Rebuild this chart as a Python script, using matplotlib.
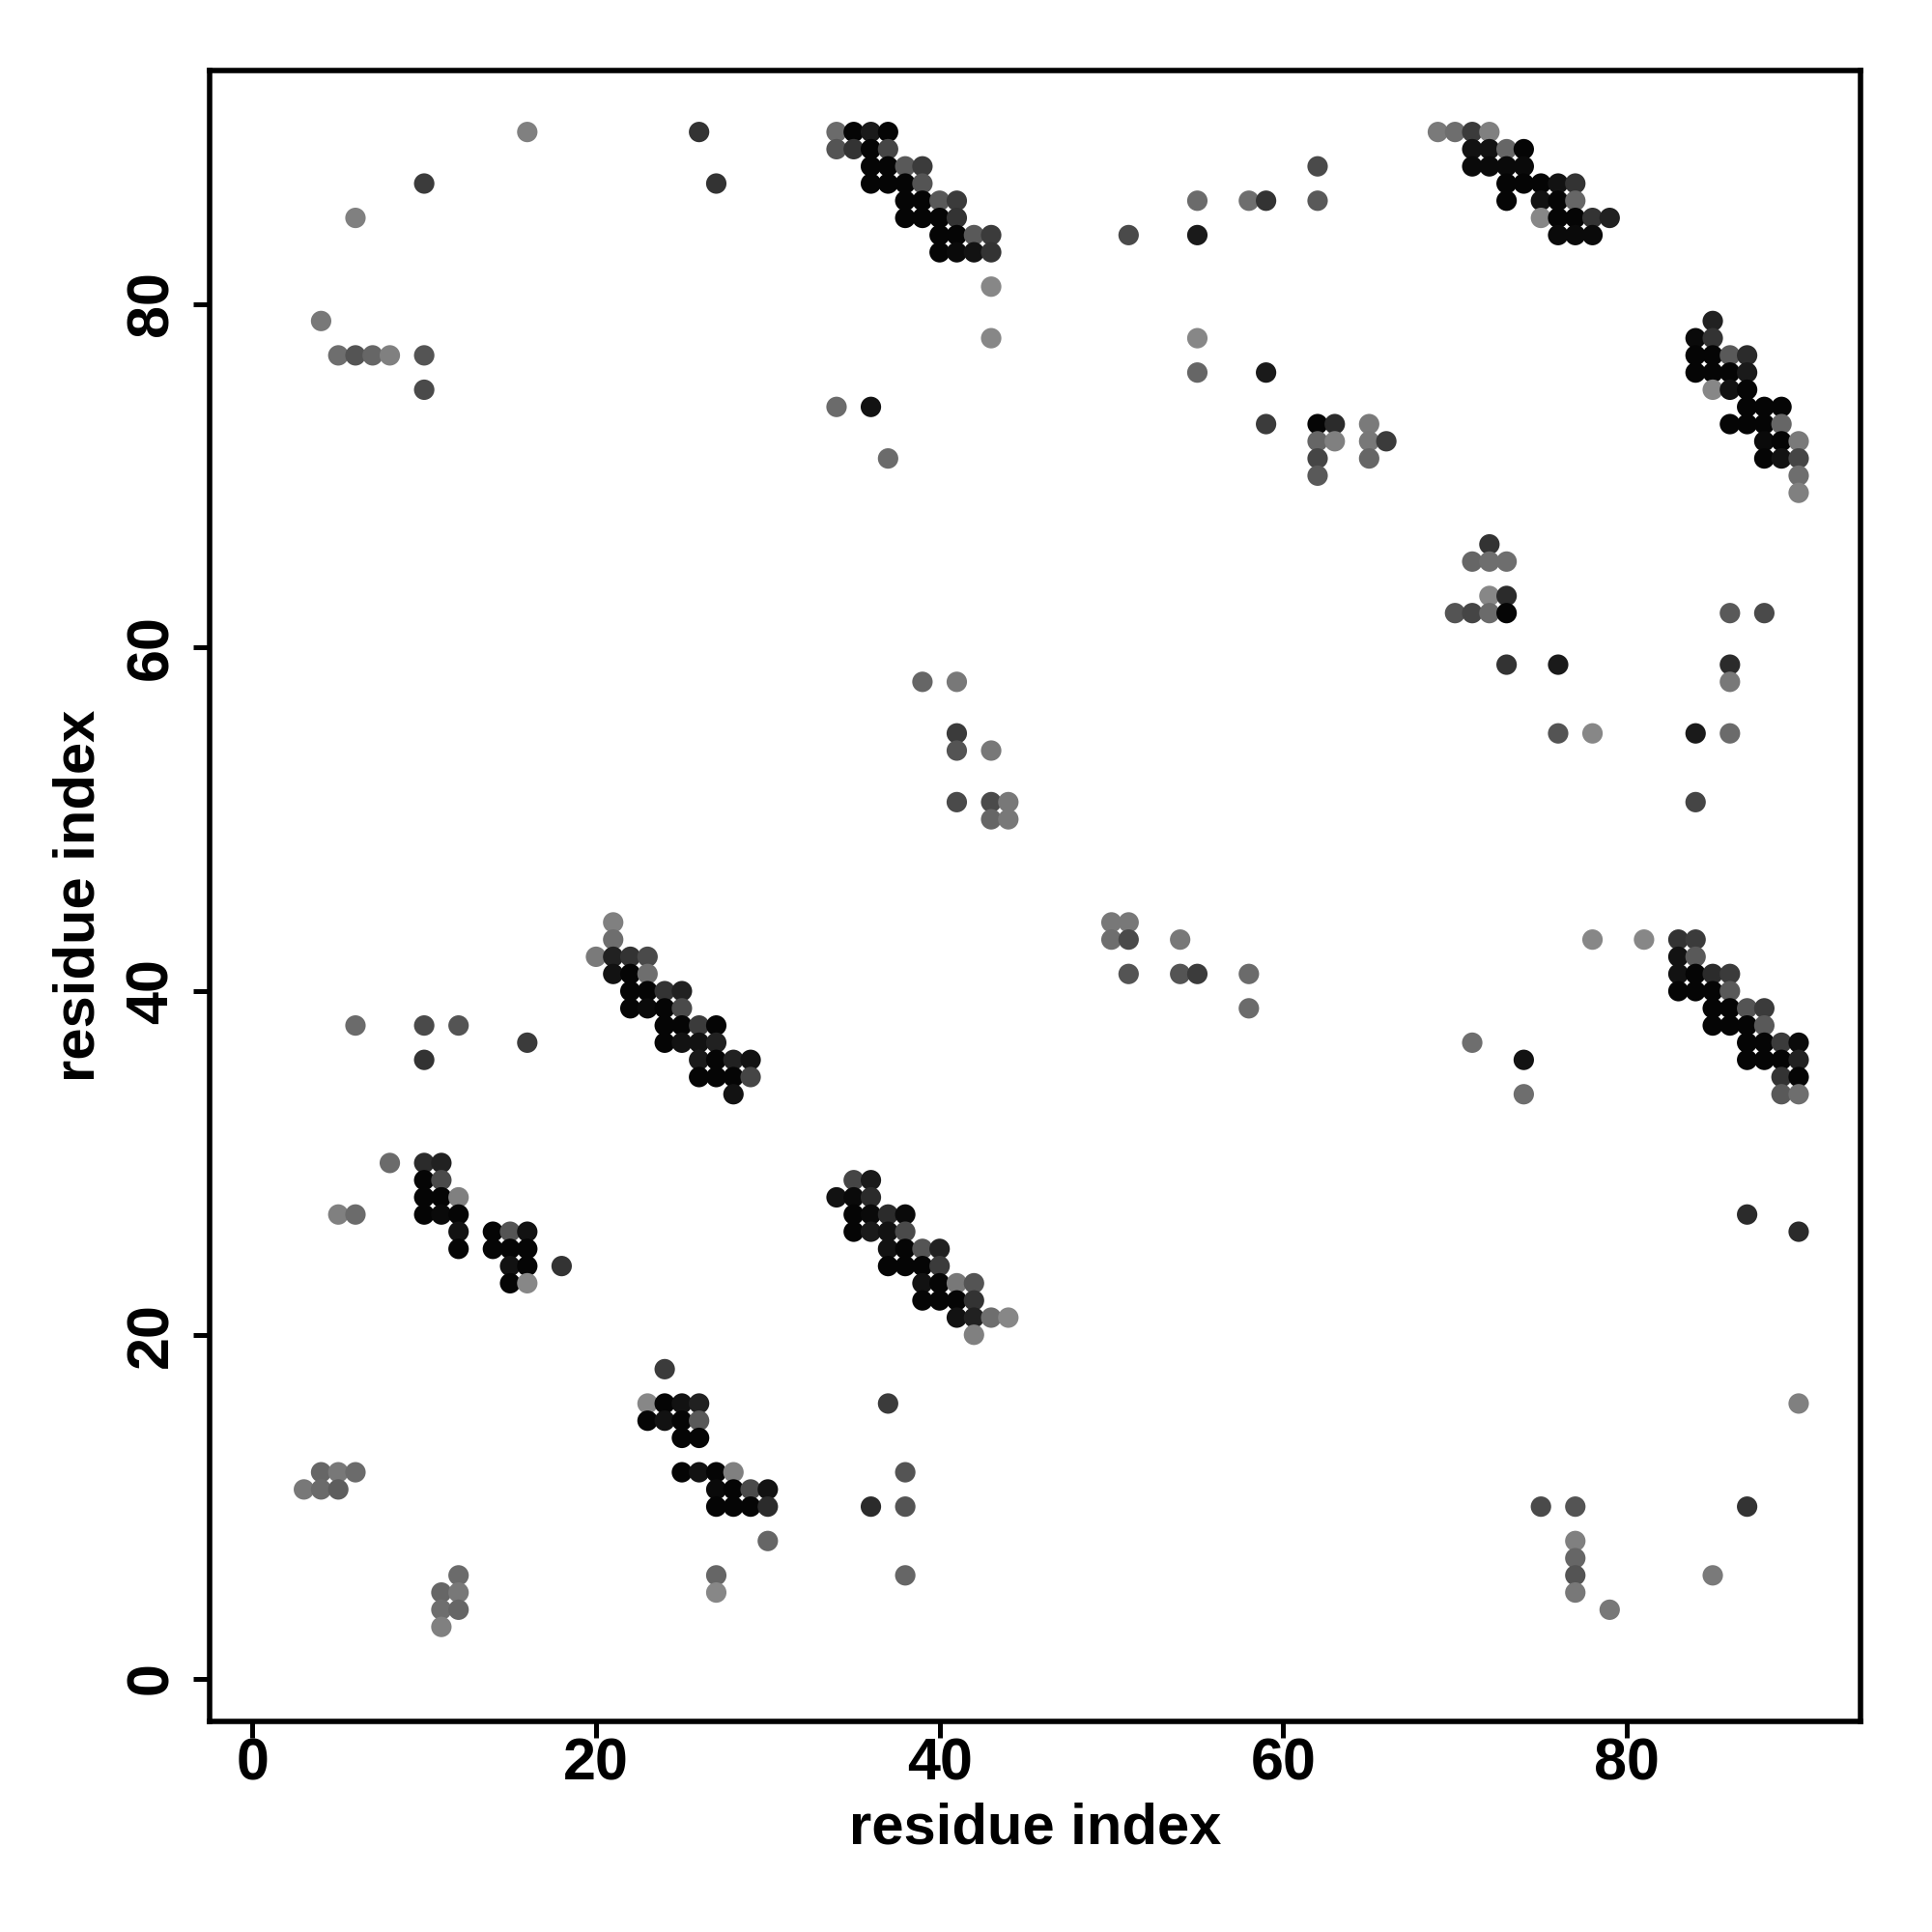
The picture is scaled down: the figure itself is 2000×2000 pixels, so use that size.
import numpy as np
import matplotlib
matplotlib.use('Agg')
import matplotlib.pyplot as plt

# contact map: residue i (x), residue j (y), gray level of the dot (0 = black)
res_x = [
    # upper left scatter
    16, 10, 6, 4, 5, 6, 7, 8, 10, 10,
    # 26-43 / 71-90
    26, 27, 43, 43, 34, 36, 37,
    34, 35, 36, 37, 34, 35, 36, 37,
    36, 37, 38, 39, 36, 37, 38, 39,
    38, 39, 40, 41, 38, 39, 40, 41,
    40, 41, 42, 43, 40, 41, 42, 43,
    # 51-66 / 70-88
    62, 55, 58, 59, 62, 51, 55, 55, 55, 59,
    59, 62, 63, 65, 62, 63, 65, 66, 62, 65, 62,
    # 69-79 / 84-90
    69, 70, 71, 72, 71, 72, 73, 74, 71, 72, 73, 74,
    73, 74, 75, 76, 77, 73, 75, 76, 77,
    75, 76, 77, 78, 79, 76, 77, 78,
    # 84-90 / 69-79
    85, 84, 85, 84, 85, 86, 87, 84, 85, 86, 87,
    85, 86, 87, 87, 88, 89, 86, 87, 88, 89,
    88, 89, 90, 88, 89, 90, 90, 90,
    # 70-88 / 51-66
    72, 71, 72, 73, 72, 73,
    70, 71, 72, 73, 86, 88,
    73, 76, 86, 86, 76, 78, 84, 86, 84,
    # 39-44 / 50-58
    39, 41, 41, 41, 43, 41, 43, 44, 43, 44,
    # 20-29 / 34-44 and left
    21, 21, 20, 21, 22, 23, 21, 22, 23,
    22, 23, 24, 25, 22, 23, 24, 25,
    6, 10, 12, 24, 25, 26, 27,
    16, 24, 25, 26, 27,
    10, 26, 27, 28, 29,
    26, 27, 28, 29, 28,
    # 50-58 / 39-44
    50, 51, 50, 51, 54, 51, 54, 55, 58, 58,
    # 71-90 / 34-43
    78, 81, 83, 84, 83, 84,
    83, 84, 85, 86, 83, 84, 85, 86,
    85, 86, 87, 88, 85, 86, 87, 88,
    71, 87, 88, 89, 90, 74, 87, 88, 89, 90,
    89, 90, 74, 89, 90,
    # 3-18 / 3-30
    8, 10, 11, 10, 11, 10, 11, 12,
    5, 6, 10, 11, 12,
    12, 14, 15, 16, 12, 14, 15, 16,
    15, 16, 18, 15, 16,
    4, 5, 6, 3, 4, 5,
    12, 11, 12, 11, 12, 11,
    # 23-44 / 5-29
    35, 36, 34, 35, 36,
    35, 36, 37, 38, 35, 36, 37, 38,
    37, 38, 39, 40, 37, 38, 39, 40,
    39, 40, 41, 42, 39, 40, 41, 42,
    41, 42, 43, 44, 42,
    24, 23, 24, 25, 26, 37,
    23, 24, 25, 26, 25, 26,
    25, 26, 27, 28, 38,
    27, 28, 29, 30,
    27, 28, 29, 30, 36, 38,
    30, 27, 38, 27,
    # 75-90 / 4-27
    87, 90, 90, 75, 77, 87, 77, 77, 77, 85, 77, 79,
]

res_y = [
    90, 87, 85, 79, 77, 77, 77, 77, 77, 75,
    90, 87, 81, 78, 74, 74, 71,
    90, 90, 90, 90, 89, 89, 89, 89,
    88, 88, 88, 88, 87, 87, 87, 87,
    86, 86, 86, 86, 85, 85, 85, 85,
    84, 84, 84, 84, 83, 83, 83, 83,
    88, 86, 86, 86, 86, 84, 84, 78, 76, 76,
    73, 73, 73, 73, 72, 72, 72, 72, 71, 71, 70,
    90, 90, 90, 90, 89, 89, 89, 89, 88, 88, 88, 88,
    87, 87, 87, 87, 87, 86, 86, 86, 86,
    85, 85, 85, 85, 85, 84, 84, 84,
    79, 78, 78, 77, 77, 77, 77, 76, 76, 76, 76,
    75, 75, 75, 74, 74, 74, 73, 73, 73, 73,
    72, 72, 72, 71, 71, 71, 70, 69,
    66, 65, 65, 65, 63, 63,
    62, 62, 62, 62, 62, 62,
    59, 59, 59, 58, 55, 55, 55, 55, 51,
    58, 58, 55, 54, 54, 51, 51, 51, 50, 50,
    44, 43, 42, 42, 42, 42, 41, 41, 41,
    40, 40, 40, 40, 39, 39, 39, 39,
    38, 38, 38, 38, 38, 38, 38,
    37, 37, 37, 37, 37,
    36, 36, 36, 36, 36,
    35, 35, 35, 35, 34,
    44, 44, 43, 43, 43, 41, 41, 41, 41, 39,
    43, 43, 43, 43, 42, 42,
    41, 41, 41, 41, 40, 40, 40, 40,
    39, 39, 39, 39, 38, 38, 38, 38,
    37, 37, 37, 37, 37, 36, 36, 36, 36, 36,
    35, 35, 34, 34, 34,
    30, 30, 30, 29, 29, 28, 28, 28,
    27, 27, 27, 27, 27,
    26, 26, 26, 26, 25, 25, 25, 25,
    24, 24, 24, 23, 23,
    12, 12, 12, 11, 11, 11,
    6, 5, 5, 4, 4, 3,
    29, 29, 28, 28, 28,
    27, 27, 27, 27, 26, 26, 26, 26,
    25, 25, 25, 25, 24, 24, 24, 24,
    23, 23, 23, 23, 22, 22, 22, 22,
    21, 21, 21, 21, 20,
    18, 16, 16, 16, 16, 16,
    15, 15, 15, 15, 14, 14,
    12, 12, 12, 12, 12,
    11, 11, 11, 11,
    10, 10, 10, 10, 10, 10,
    8, 6, 6, 5,
    27, 26, 16, 10, 10, 10, 8, 7, 6, 6, 5, 4,
]

shade = [
    .50, .23, .50, .47, .43, .33, .40, .50, .33, .29,
    .20, .20, .53, .53, .42, .07, .42,
    .42, .02, .10, .02, .33, .20, .02, .27,
    .02, .02, .35, .23, .02, .02, .02, .33,
    .02, .02, .35, .23, .02, .02, .02, .20,
    .02, .02, .35, .23, .02, .04, .07, .20,
    .29, .42, .43, .20, .35, .29, .10, .53, .40, .10,
    .23, .02, .17, .48, .40, .50, .47, .23, .27, .40, .35,
    .48, .43, .23, .50, .07, .07, .40, .02, .04, .04, .04, .04,
    .02, .02, .02, .07, .20, .02, .07, .02, .40,
    .53, .02, .02, .20, .13, .04, .04, .04,
    .13, .04, .20, .02, .02, .35, .17, .02, .02, .02, .10,
    .53, .07, .02, .02, .02, .02, .02, .02, .02, .40,
    .04, .02, .48, .02, .07, .27, .43, .50,
    .20, .40, .43, .43, .53, .17,
    .33, .27, .42, .02, .35, .29,
    .20, .10, .17, .47, .33, .53, .10, .42, .27,
    .40, .47, .23, .33, .47, .29, .29, .47, .40, .47,
    .50, .43, .48, .13, .20, .29, .07, .02, .43,
    .02, .02, .20, .13, .02, .04, .02, .29,
    .42, .29, .33, .02, .02, .23, .02,
    .23, .02, .07, .07, .13,
    .20, .10, .02, .13, .07,
    .02, .02, .02, .27, .07,
    .47, .47, .43, .29, .47, .33, .33, .23, .42, .42,
    .53, .53, .20, .23, .07, .35,
    .07, .02, .17, .23, .02, .02, .02, .35,
    .02, .02, .33, .23, .02, .02, .02, .35,
    .43, .02, .02, .23, .04, .07, .02, .02, .02, .13,
    .20, .02, .43, .35, .43,
    .42, .17, .13, .02, .29, .02, .02, .50,
    .50, .42, .02, .04, .02,
    .07, .02, .33, .07, .02, .02, .02, .02,
    .07, .02, .20, .02, .53,
    .40, .47, .42, .47, .42, .37,
    .42, .40, .47, .43, .40, .50,
    .27, .10, .07, .04, .17,
    .02, .04, .17, .04, .02, .10, .07, .29,
    .07, .02, .33, .13, .02, .02, .02, .23,
    .07, .02, .47, .33, .02, .02, .02, .20,
    .07, .13, .43, .53, .50,
    .23, .53, .02, .07, .13, .23,
    .02, .07, .02, .35, .02, .02,
    .02, .07, .02, .50, .33,
    .04, .02, .29, .07,
    .02, .02, .02, .17, .17, .33,
    .40, .40, .40, .53,
    .17, .17, .50, .29, .33, .20, .50, .40, .33, .48, .47, .47,
]

ticks = [0, 20, 40, 60, 80]

assert len(res_x) == len(res_y) == len(shade)

plt.rcParams['font.family'] = ['Liberation Sans', 'DejaVu Sans']
plt.rcParams['font.weight'] = 'bold'

fig = plt.figure(figsize=(10, 10), dpi=200)
ax = fig.add_axes([0.1084, 0.109, 0.8546, 0.8547])

colors = [(g, g, g) for g in shade]
ax.scatter(res_x, res_y, s=58, c=colors, linewidths=0, zorder=3)

ax.set_xlim(-2.5, 93.6)
ax.set_ylim(-2.5, 93.6)
ax.set_xticks(ticks)
ax.set_yticks(ticks)
ax.tick_params(axis='both', direction='out', length=6, width=1.8, labelsize=22)
ax.tick_params(axis='x', pad=0)
ax.tick_params(axis='y', pad=5)
plt.yticks(rotation=90, va='center')
for sp in ax.spines.values():
    sp.set_linewidth(2.0)

ax.set_xlabel('residue index', fontsize=21.5, fontweight='bold', labelpad=3.5)
ax.set_ylabel('residue index', fontsize=21.5, fontweight='bold', labelpad=7)

fig.savefig('out.png', dpi=200)
